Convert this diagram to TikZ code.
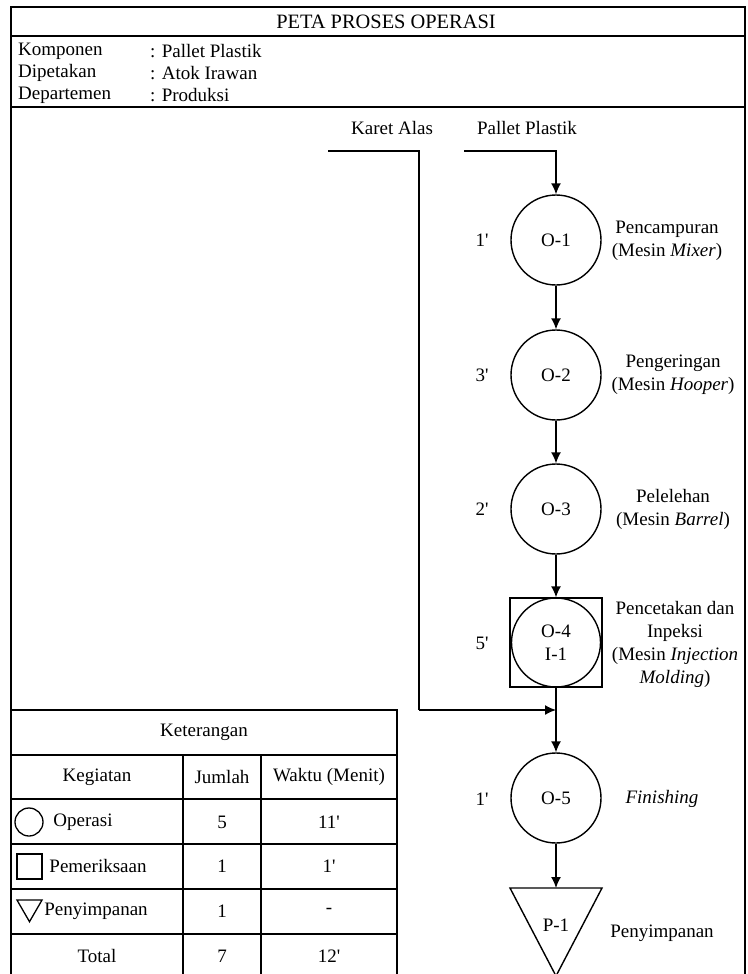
\documentclass[tikz,border=0pt]{standalone}
\usepackage{fontspec}
\setmainfont{Liberation Serif}
\usetikzlibrary{arrows.meta,shapes.geometric}
\newcommand{\mq}{\textquotesingle}
\begin{document}
\begin{tikzpicture}[x=1pt,y=-1pt,
  every node/.style={font=\fontsize{19}{23}\selectfont, inner sep=0pt},
  frame/.style={line width=1.8pt},
  grid/.style={line width=1.6pt},
  op/.style={draw, circle, line width=1.4pt, minimum size=90pt, align=center},
  flow/.style={line width=1.4pt, -{Latex[length=11pt,width=10pt]}},
  plain/.style={line width=1.4pt},
  lbl/.style={align=center},
  sym/.style={draw, line width=1.3pt},
]
\useasboundingbox (0,0) rectangle (747,974);
\clip (0,0) rectangle (747,974);
% header
\draw[frame] (11,7) rectangle (745,985);
\draw[frame] (11,36) -- (745,36);
\draw[frame] (11,107) -- (745,107);
\node[font=\fontsize{20.4}{24}\selectfont] (title) at (386,22) {PETA PROSES OPERASI};
\node[anchor=west] (k1) at (18,51) {Komponen};
\node[anchor=west] (k1v) at (150,51) {: Pallet Plastik};
\node[anchor=west] (k2) at (18,73) {Dipetakan};
\node[anchor=west] (k2v) at (150,73) {: Atok Irawan};
\node[anchor=west] (k3) at (18,95) {Departemen};
\node[anchor=west] (k3v) at (150,95) {: Produksi};
% flow
\node (karet) at (392,128) {Karet Alas};
\node (pallet) at (527,128) {Pallet Plastik};
\coordinate (kstart) at (328,151);
\coordinate (kbend) at (419,151);
\coordinate (kdown) at (419,710);
\coordinate (join) at (556,710);
\coordinate (pstart) at (464,151);
\coordinate (pbend) at (556,151);
\node[op] (o1) at (556,240) {O-1};
\node[op] (o2) at (556,375) {O-2};
\node[op] (o3) at (556,509) {O-3};
\node[draw, plain, minimum width=92pt, minimum height=89pt] (box) at (556,642.5) {};
\node[op, minimum size=89pt] (o4) at (556,642.5) {O-4\\I-1};
\node[op] (o5) at (556,798) {O-5};
\coordinate (p1tl) at (510,888);
\coordinate (p1tr) at (602,888);
\coordinate (p1b) at (556,976);
\coordinate (p1) at (556,888);
\draw[plain, line join=miter] (p1tl) -- (p1tr) -- (p1b) -- cycle;
\node (p1t) at (556,925) {P-1};
\draw[flow] (pstart) -- (pbend) -- (o1.north);
\draw[flow] (o1) -- (o2);
\draw[flow] (o2) -- (o3);
\draw[flow] (o3) -- (box.north);
\draw[plain] (kstart) -- (kbend) -- (kdown);
\draw[flow] (kdown) -- (join);
\draw[flow] (box.south) -- (o5.north);
\draw[flow] (o5.south) -- (p1);
% times
\node (t1) at (482,240) {1\mq};
\node (t2) at (482,375) {3\mq};
\node (t3) at (482,509) {2\mq};
\node (t4) at (482,643) {5\mq};
\node (t5) at (482,799) {1\mq};
% descriptions
\node[lbl] (l1) at (667,241) {Pencampuran\\(Mesin \textit{Mixer})};
\node[lbl] (l2) at (673,375) {Pengeringan\\(Mesin \textit{Hooper})};
\node[lbl] (l3) at (673,509) {Pelelehan\\(Mesin \textit{Barrel})};
\node[lbl] (l4) at (675,644) {Pencetakan dan\\Inpeksi\\(Mesin \textit{Injection}\\\textit{Molding})};
\node (l5) at (662,799) {\textit{Finishing}};
\node (l6) at (662,933) {Penyimpanan};
% table
\draw[grid] (11,710) rectangle (397,985);
\foreach \yy in {755,799,844,889,934} \draw[grid] (11,\yy) -- (397,\yy);
\draw[grid] (183,755) -- (183,985);
\draw[grid] (261,755) -- (261,985);
\node (ket) at (204,732) {Keterangan};
\node (h1) at (97,777) {Kegiatan};
\node (h2) at (222,777) {Jumlah};
\node (h3) at (329,777) {Waktu (Menit)};
\node[sym, circle, minimum size=28pt] (s1) at (29,822) {};
\node (r1) at (83,822) {Operasi};
\node (r1a) at (222,822) {5};
\node (r1b) at (329,822) {11\mq};
\node[sym, minimum size=25pt] (s2) at (29.5,866.5) {};
\node (r2) at (98,866) {Pemeriksaan};
\node (r2a) at (222,866) {1};
\node (r2b) at (329,866) {1\mq};
\node[sym, regular polygon, regular polygon sides=3, shape border rotate=180, minimum size=29pt] (s3) at (29.5,907.2) {};
\node (r3) at (96,911) {Penyimpanan};
\node (r3a) at (222,911) {1};
\node (r3b) at (329,911) {-};
\node (r4) at (97,956) {Total};
\node (r4a) at (222,956) {7};
\node (r4b) at (329,956) {12\mq};
\end{tikzpicture}
\end{document}
